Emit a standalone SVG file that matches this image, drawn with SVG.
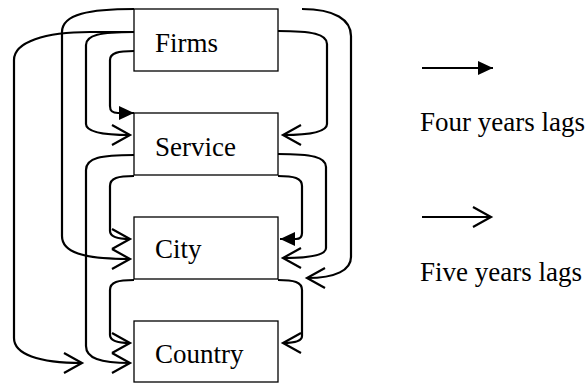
<svg xmlns="http://www.w3.org/2000/svg" width="588" height="384" viewBox="0 0 588 384">
<style>
.box{fill:#fff;stroke:#000;stroke-width:1.3}
.lbl{font-family:"Liberation Serif","Times New Roman",serif;font-size:27px;fill:#000}
.c{fill:none;stroke:#000;stroke-width:2.2}
.o{marker-end:url(#open)}
.f{marker-end:url(#filled)}
</style>
<defs>
<marker id="open" markerUnits="userSpaceOnUse" viewBox="-20 -12 22 24" refX="0" refY="0" markerWidth="22" markerHeight="24" orient="auto" overflow="visible">
<path d="M-18,-10 L0,0 L-18,10" fill="none" stroke="#000" stroke-width="2.2"/>
</marker>
<marker id="filled" markerUnits="userSpaceOnUse" viewBox="-16 -8 17 16" refX="0" refY="0" markerWidth="17" markerHeight="16" orient="auto" overflow="visible">
<path d="M-15,-7 L0,0 L-15,7 Z" fill="#000" stroke="none"/>
</marker>
</defs>
<g id="connectors">
<path class="c o" d="M134,32 L90,32 C45,32 14,42 14,60 V338 C14,354 38,363 82,363"/>
<path class="c o" d="M134,9 C90,9 62,14 62,32 V236 C62,252 82,259 130,259"/>
<path class="c o" d="M134,32 C100,32 86,35 86,45 V124 C86,131 100,135 130,135"/>
<path class="c f" d="M134,51 C118,51 110,53 110,60 V106 C110,111 112,113 118,113 L134,113"/>
<path class="c o" d="M134,155 C100,155 86,158 86,170 V346 C86,358 100,363 130,363"/>
<path class="c o" d="M134,176 C118,176 110,178 110,186 V231 C110,236 115,239 130,239"/>
<path class="c o" d="M134,280 C118,280 110,282 110,290 V335 C110,340 115,343 130,343"/>
<path class="c o" d="M302,9 C335,9 351,20 351,36 V257 C351,270 336,278 307,278"/>
<path class="c o" d="M278,31 C312,31 327,34 327,44 V124 C327,131 315,135 283,135"/>
<path class="c o" d="M278,154 C312,154 326,157 326,167 V248 C326,254 315,258 283,258"/>
<path class="c f" d="M278,176 C294,176 302,178 302,186 V233 C302,237 300,239 296,239 L280,239"/>
<path class="c o" d="M278,280 C294,280 302,282 302,290 V336 C302,341 296,343 283,343"/>
</g>
<g id="firms"><rect class="box" x="134" y="9" width="144" height="62"/><text class="lbl" x="155" y="52">Firms</text></g>
<g id="service"><rect class="box" x="134" y="113" width="144" height="62"/><text class="lbl" x="155" y="156">Service</text></g>
<g id="city"><rect class="box" x="134" y="217" width="144" height="62"/><text class="lbl" x="155" y="258">City</text></g>
<g id="country"><rect class="box" x="134" y="321" width="144" height="61"/><text class="lbl" x="155" y="363">Country</text></g>
<g id="legend">
<path class="c f" d="M422,68 L493,68"/>
<text class="lbl" x="420" y="131">Four years lags</text>
<path class="c o" d="M422,217 L491,217"/>
<text class="lbl" x="420" y="281">Five years lags</text>
</g>
</svg>
